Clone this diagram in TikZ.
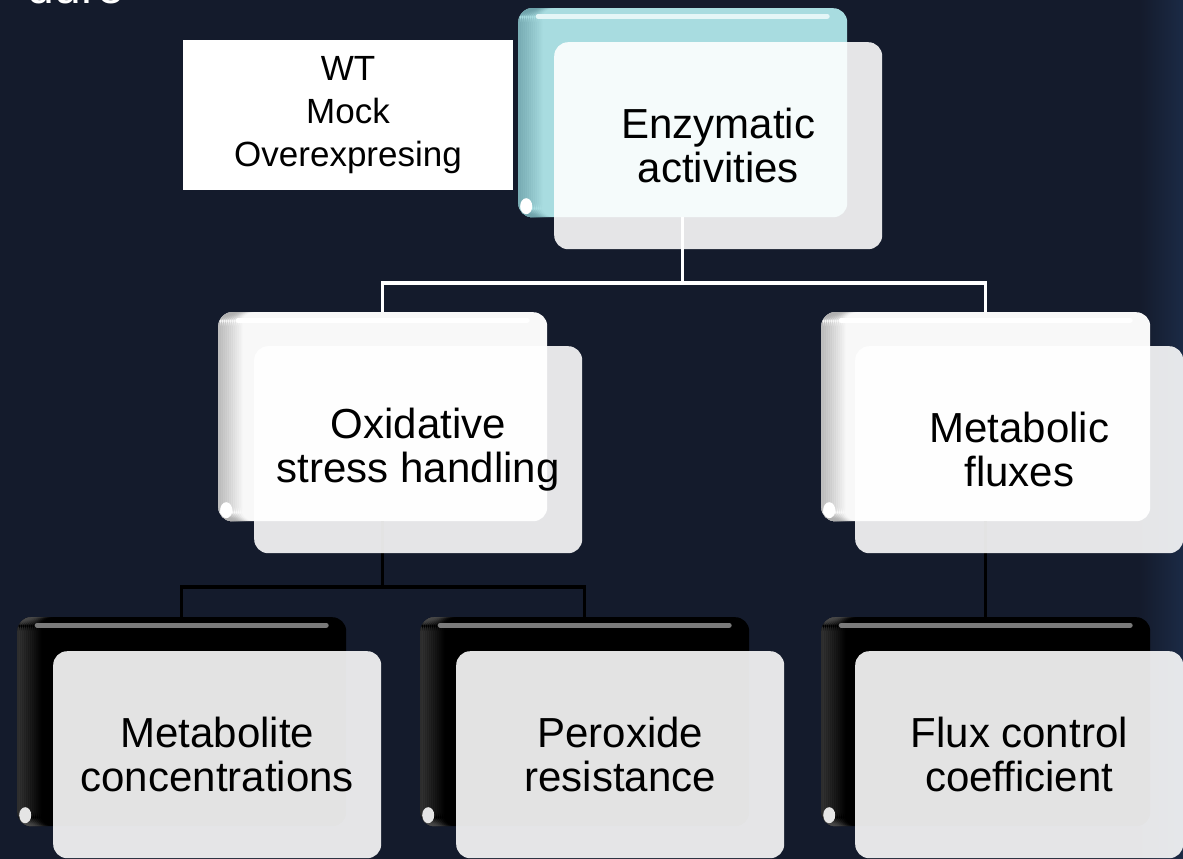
\documentclass[tikz,border=0pt]{standalone}
\usepackage{fontspec}
\setmainfont{Liberation Sans}
\definecolor{bgc}{HTML}{141B2C}
\definecolor{bgr}{HTML}{1B2A45}
\definecolor{tealmain}{HTML}{A8DCE0}
\definecolor{tealdark}{HTML}{6FA3AB}
\definecolor{teallight}{HTML}{E4F6F7}
\definecolor{whmain}{HTML}{F8F8F8}
\definecolor{whdark}{HTML}{B0B0B0}
\definecolor{blkhl}{HTML}{7A7A7A}
\newcommand\mynodefont{\fontsize{42}{43.5}\selectfont}
\newcommand\mylegfont{\fontsize{35}{42.7}\selectfont}
\tikzset{
  backbox/.style={rectangle, rounded corners=14pt, minimum width=329pt, minimum height=209pt, inner sep=0pt, anchor=north west},
  glossy/.style n args={4}{path picture={
      \foreach \i in {0,...,11} {
        \pgfmathsetmacro\myop{#3*(1-\i/12)}
        \fill[#1, opacity=\myop] ([xshift={\i*2pt}]path picture bounding box.north west) rectangle ([xshift={\i*2pt+2.2pt}]path picture bounding box.south west);
      }
      \draw[line width=5pt, line cap=round, color=#2] ([xshift=20pt,yshift=-8pt]path picture bounding box.north west) -- ([xshift=-20pt,yshift=-8pt]path picture bounding box.north east);
      \fill[#4] ([xshift=8pt,yshift=11pt]path picture bounding box.south west) ellipse (6pt and 8pt);
  }},
  backteal/.style={backbox, fill=tealmain, glossy={tealdark}{teallight}{0.8}{white}},
  backwhite/.style={backbox, fill=whmain, glossy={whdark}{white}{0.8}{white}},
  backblack/.style={backbox, fill=black, glossy={black!70}{blkhl}{0.6}{white!90!black}},
  frontbox/.style={rectangle, rounded corners=14pt, minimum width=328pt, minimum height=207pt, inner sep=0pt, anchor=north west, fill=white, fill opacity=0.89, text opacity=1, text=black, align=center, font=\mynodefont},
  legendbox/.style={rectangle, fill=white, minimum width=330pt, minimum height=150pt, inner sep=0pt, align=center, text=black, font=\mylegfont},
  wline/.style={draw=white, line width=3.5pt},
  bline/.style={draw=black, line width=3.5pt},
}
\begin{document}
\begin{tikzpicture}[x=1pt,y=-1pt]
\useasboundingbox (0,0) rectangle (1183,859);
\clip (0,0) rectangle (1183,859);
\fill[bgc] (0,0) rectangle (1183,859);
\shade[left color=bgc, right color=bgr] (1140,0) rectangle (1183,859);

\node[anchor=base east, inner sep=0pt, text=white, font=\fontsize{48}{50}\selectfont] (title) at (124,4) {dure};

\node[legendbox] (legend) at (348,115) {WT\\Mock\\Overexpresing};

% back boxes
\node[backteal] (E) at (518,8) {};
\node[backwhite] (O) at (218,312) {};
\node[backwhite] (M) at (821,312) {};
\node[backblack] (Met) at (17,617) {};
\node[backblack] (Per) at (420,617) {};
\node[backblack] (Flux) at (821,617) {};

% connectors
\coordinate (j1) at (0,283);
\coordinate (j2) at (0,587);
\draw[wline] (E.south) -- (E.south |- j1) -| (O.north);
\draw[wline] (E.south |- j1) -| (M.north);
\draw[bline] (O.south) -- (O.south |- j2) -| (Met.north);
\draw[bline] (O.south |- j2) -| (Per.north);
\draw[bline] (M.south) -- (Flux.north);

% front boxes
\node[frontbox] (Ef) at (554,42) {Enzymatic\\activities};
\node[frontbox] (Of) at (254,346) {Oxidative\\stress handling};
\node[frontbox] (Mf) at (855,346) {Metabolic\\fluxes};
\node[frontbox] (Metf) at (53,651) {Metabolite\\concentrations};
\node[frontbox] (Perf) at (456,651) {Peroxide\\resistance};
\node[frontbox] (Fluxf) at (855,651) {Flux control\\coefficient};
\end{tikzpicture}
\end{document}
